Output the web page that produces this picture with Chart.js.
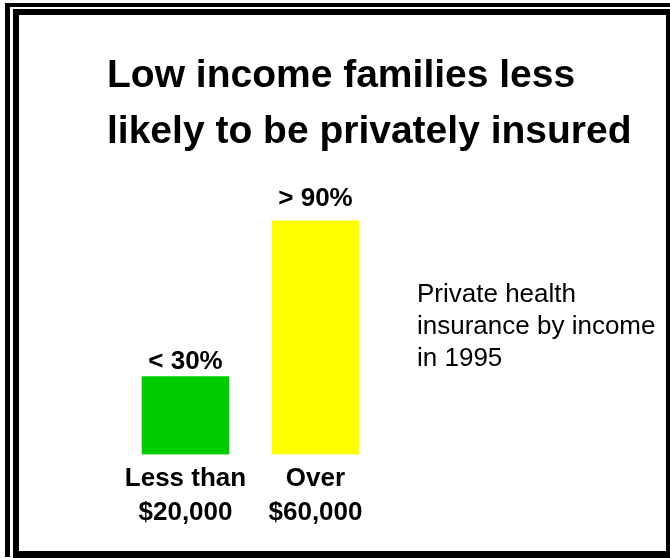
<!DOCTYPE html>
<html>
<head>
<meta charset="utf-8">
<script src="https://cdn.jsdelivr.net/npm/chart.js@4/dist/chart.umd.min.js"></script>
<style>
  body { margin: 0; background: #fff; }
  #wrap { position: relative; width: 670px; height: 558px; overflow: hidden; }
  #grafico { position: absolute; left: 0; top: 0; }
  .marco { position: absolute; box-sizing: border-box; pointer-events: none; border-style: solid; border-color: #000; }
  #marco-ext { left: 5px; top: 3px; right: 0; bottom: 1px; border-width: 4px 0 0 5px; }
  #marco-int { left: 13px; top: 9px; right: 0; bottom: 0; border-width: 6px 4px 7px 6px; }
</style>
</head>
<body>
<div id="wrap">
  <canvas id="grafico" width="670" height="558"></canvas>
  <div class="marco" id="marco-ext"></div>
  <div class="marco" id="marco-int"></div>
</div>
<script>
// Datos del gráfico
const categorias = [['Less than', '$20,000'], ['Over', '$60,000']];
const valores = [30, 90];
const etiquetasValor = ['< 30%', '> 90%'];
const colores = ['#00CC00', '#FFFF00'];
const titulo = ['Low income families less', 'likely to be privately insured'];
const nota = ['Private health', 'insurance by income', 'in 1995'];

const fuente = "'Liberation Sans', Arial, Helvetica, sans-serif";

// Plugin para el título, la nota y las etiquetas sobre las barras
const textosPlugin = {
    id: 'textos',
    afterDatasetsDraw(chart) {
        const ctx = chart.ctx;
        ctx.save();
        ctx.fillStyle = '#000';
        ctx.textBaseline = 'alphabetic';

        // Título
        ctx.textAlign = 'left';
        ctx.font = 'bold 39px ' + fuente;
        titulo.forEach((linea, i) => ctx.fillText(linea, 107, 87 + i * 56));

        // Nota a la derecha
        ctx.font = '26px ' + fuente;
        nota.forEach((linea, i) => ctx.fillText(linea, 417, 302 + i * 32));

        // Etiquetas de valor
        ctx.textAlign = 'center';
        ctx.font = 'bold 26px ' + fuente;
        const separacion = [8, 15];
        chart.getDatasetMeta(0).data.forEach((barra, i) => {
            ctx.fillText(etiquetasValor[i], barra.x, barra.y - separacion[i]);
        });
        ctx.restore();
    }
};

new Chart(document.getElementById('grafico'), {
    type: 'bar',
    data: {
        labels: categorias,
        datasets: [{
            data: valores,
            backgroundColor: colores,
            borderWidth: 0,
            barThickness: 87
        }]
    },
    options: {
        responsive: false,
        animation: false,
        devicePixelRatio: 1,
        layout: { padding: { top: 195, left: 120.5, right: 289.5, bottom: 28 } },
        plugins: {
            legend: { display: false },
            tooltip: { enabled: false },
            title: { display: false }
        },
        scales: {
            y: { display: false, min: 0, max: 100 },
            x: {
                offset: true,
                grid: { display: false },
                border: { display: false },
                ticks: {
                    color: '#000',
                    padding: 0,
                    maxRotation: 0,
                    autoSkip: false,
                    font: { family: fuente, size: 26, weight: 'bold', lineHeight: 1.3 }
                }
            }
        }
    },
    plugins: [textosPlugin]
});
</script>
</body>
</html>
